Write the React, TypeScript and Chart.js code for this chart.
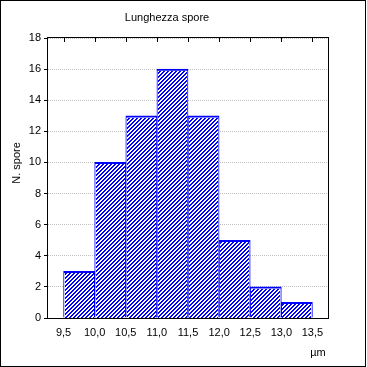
import React, { useEffect, useRef } from "react";
import { Chart, registerables } from "chart.js";

Chart.register(...registerables);

const binEdges = [9.5, 10.0, 10.5, 11.0, 11.5, 12.0, 12.5, 13.0, 13.5];
const counts = [3, 10, 13, 16, 13, 5, 2, 1];
const yTicks = [0, 2, 4, 6, 8, 10, 12, 14, 16, 18];
const titleText = "Lunghezza spore";
const yLabel = "N. spore";
const xLabel = "µm";

const FONT = "Liberation Sans";
const BLUE = "#0000ff";

const hatchPlugin = {
  id: "hatch",
  afterDatasetDraw(chart: any, args: any) {
    const meta = args.meta;
    const ctx = chart.ctx;
    ctx.save();
    ctx.fillStyle = BLUE;
    for (const el of meta.data) {
      const p = el.getProps(["x", "y", "base", "width"], true);
      const l = Math.round(p.x - p.width / 2) + 1;
      const r = Math.round(p.x + p.width / 2) - 1;
      const t = Math.round(Math.min(p.y, p.base)) + 2;
      const b = Math.round(Math.max(p.y, p.base));
      for (let y = t; y < b; y++) {
        const x0 = l + ((((2 - (l + y)) % 4) + 4) % 4);
        for (let x = x0 - 4; x < r; x += 4) {
          const xa = Math.max(x, l);
          const xb = Math.min(x + 2, r);
          if (xb > xa) ctx.fillRect(xa, y, xb - xa, 1);
        }
      }
    }
    ctx.restore();
  },
};

const framePlugin = {
  id: "frame",
  beforeDraw(chart: any) {
    const ctx = chart.ctx;
    ctx.save();
    ctx.fillStyle = "#ffffff";
    ctx.fillRect(0, 0, chart.width, chart.height);
    ctx.restore();
  },
  afterDatasetsDraw(chart: any) {
    const ctx = chart.ctx;
    const a = chart.chartArea;
    const xs = chart.scales.x;
    ctx.save();
    ctx.strokeStyle = "#000000";
    ctx.lineWidth = 1;
    ctx.strokeRect(Math.round(a.left) - 0.5, Math.round(a.top) - 0.5, Math.round(a.right - a.left) + 1, Math.round(a.bottom - a.top) + 1);
    ctx.beginPath();
    for (const v of binEdges) {
      const px = Math.round(xs.getPixelForValue(v)) + 0.5;
      ctx.moveTo(px, a.top);
      ctx.lineTo(px, a.top + 4);
    }
    ctx.stroke();
    ctx.strokeRect(0.5, 0.5, chart.width - 2, chart.height - 1);
    ctx.fillStyle = "#000000";
    ctx.font = `11px "${FONT}"`;
    ctx.textAlign = "center";
    ctx.textBaseline = "alphabetic";
    ctx.fillText(titleText, 167, 21);
    ctx.fillText(xLabel, 318, 356);
    ctx.translate(20, 163);
    ctx.rotate(-Math.PI / 2);
    ctx.fillText(yLabel, 0, 0);
    ctx.restore();
  },
};

export default function App() {
  const ref = useRef<HTMLCanvasElement>(null);
  useEffect(() => {
    document.body.style.margin = "0";
    if (!ref.current) return;
    const centers = counts.map((_, i) => (binEdges[i] + binEdges[i + 1]) / 2);
    const chart = new Chart(ref.current, {
      type: "bar",
      data: {
        datasets: [
          {
            data: counts.map((c, i) => ({ x: centers[i], y: c })),
            backgroundColor: "#ffffff",
            borderColor: BLUE,
            borderWidth: { top: 2, left: 1, right: 1, bottom: 0 },
            borderSkipped: "start",
            barPercentage: 1,
            categoryPercentage: 1,
          },
        ],
      },
      options: {
        responsive: false,
        animation: false,
        devicePixelRatio: 1,
        layout: { padding: { left: 0, top: 38, right: 39, bottom: 0 } },
        plugins: {
          legend: { display: false },
          tooltip: { enabled: false },
          title: { display: false },
        },
        scales: {
          x: {
            type: "linear",
            min: 9.25,
            max: 13.75,
            offset: false,
            grid: { display: false, drawTicks: false, offset: false },
            border: { display: false },
            afterBuildTicks: (s: any) => {
              s.ticks = binEdges.map((v) => ({ value: v }));
            },
            afterFit: (s: any) => {
              s.height = 49;
            },
            ticks: {
              padding: 8,
              color: "#000000",
              font: { family: FONT, size: 11 },
              maxRotation: 0,
              autoSkip: false,
              callback: (v: any) => Number(v).toFixed(1).replace(".", ","),
            },
          },
          y: {
            min: 0,
            max: 18,
            afterBuildTicks: (s: any) => {
              s.ticks = yTicks.map((v) => ({ value: v }));
            },
            afterFit: (s: any) => {
              s.width = 48;
            },
            grid: {
              color: "#c0c0c0",
              lineWidth: 1,
              drawTicks: true,
              tickLength: 4,
              tickColor: "#000000",
              tickBorderDash: [],
            },
            border: { display: false, dash: [1, 1] },
            ticks: {
              padding: 3,
              color: "#000000",
              font: { family: FONT, size: 11 },
            },
          },
        },
      },
      plugins: [framePlugin, hatchPlugin],
    } as any);
    return () => chart.destroy();
  }, []);
  return (
    <canvas
      ref={ref}
      width={367}
      height={367}
      style={{ display: "block", width: 367, height: 367 }}
    />
  );
}
